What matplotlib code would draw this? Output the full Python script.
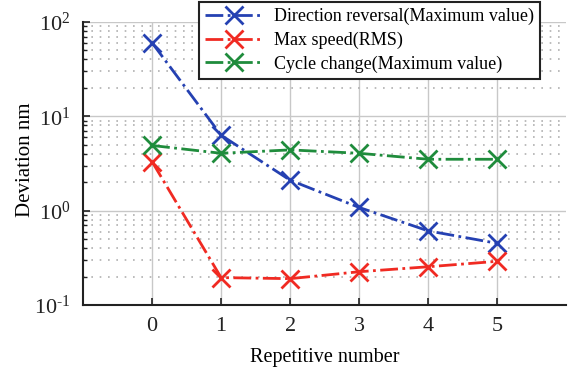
import matplotlib
matplotlib.use("Agg")
import matplotlib.pyplot as plt
import numpy as np
from matplotlib.ticker import LogLocator, NullFormatter, FuncFormatter

plt.rcParams["font.family"] = ["Liberation Serif", "DejaVu Serif"]
plt.rcParams["mathtext.fontset"] = "custom"
plt.rcParams["mathtext.rm"] = "Liberation Serif"
plt.rcParams["mathtext.it"] = "Liberation Serif:italic"

reps = [0, 1, 2, 3, 4, 5]
direction_reversal = [60, 6.3, 2.1, 1.08, 0.61, 0.45]
max_speed = [3.3, 0.195, 0.19, 0.225, 0.254, 0.29]
cycle_change = [4.9, 4.05, 4.4, 4.05, 3.5, 3.5]

series = [
    ("Direction reversal(Maximum value)", direction_reversal, "#2541b2"),
    ("Max speed(RMS)", max_speed, "#f02a22"),
    ("Cycle change(Maximum value)", cycle_change, "#1f8c3c"),
]


def pow10(v, pos):
    e = int(round(np.log10(v)))
    if e < 0:
        return r"$10^{\text{-%d}}$" % -e
    return r"$10^{%d}$" % e


fig = plt.figure(figsize=(5.69, 3.71), dpi=100)
ax = fig.add_axes([0.146, 0.178, 0.849, 0.763])

for label, vals, col in series:
    ax.plot(reps, vals, color=col, linestyle="-.", linewidth=2,
            marker="x", markersize=13, markeredgewidth=2, label=label)

ax.set_yscale("log")
ax.set_ylim(0.1, 100)
ax.set_xlim(-1, 6)
ax.set_xticks(reps)
ax.yaxis.set_major_formatter(FuncFormatter(pow10))
ax.yaxis.set_minor_locator(LogLocator(base=10, subs=range(2, 10)))
ax.yaxis.set_minor_formatter(NullFormatter())

ax.grid(True, which="major", color="#c8c8c8", linewidth=1, linestyle="-")
ax.grid(True, which="minor", axis="y", color="#b0b0b0", linewidth=1.2,
        linestyle=(0, (1, 4)))
ax.set_axisbelow(True)

for side in ["top", "right"]:
    ax.spines[side].set_visible(False)
for side in ["left", "bottom"]:
    ax.spines[side].set_linewidth(1.5)
    ax.spines[side].set_color("#222222")

ax.tick_params(which="both", direction="in", labelsize=16, colors="#222222")
ax.tick_params(which="major", length=5, width=1.2, pad=9)
ax.tick_params(which="minor", length=3, width=1)

ax.set_xlabel("Repetitive number", fontsize=14.5, labelpad=8)
ax.set_ylabel("Deviation nm", fontsize=15)
ax.yaxis.set_label_coords(-0.10, 0.512)

leg = ax.legend(loc="upper right", bbox_to_anchor=(0.946, 1.071), fontsize=13,
                frameon=True, fancybox=False, edgecolor="#222222",
                handlelength=3.2, borderpad=0.35, labelspacing=0.35,
                handletextpad=0.6, borderaxespad=0, framealpha=1)
leg.get_frame().set_linewidth(1.5)

fig.savefig("out.png", dpi=100)
